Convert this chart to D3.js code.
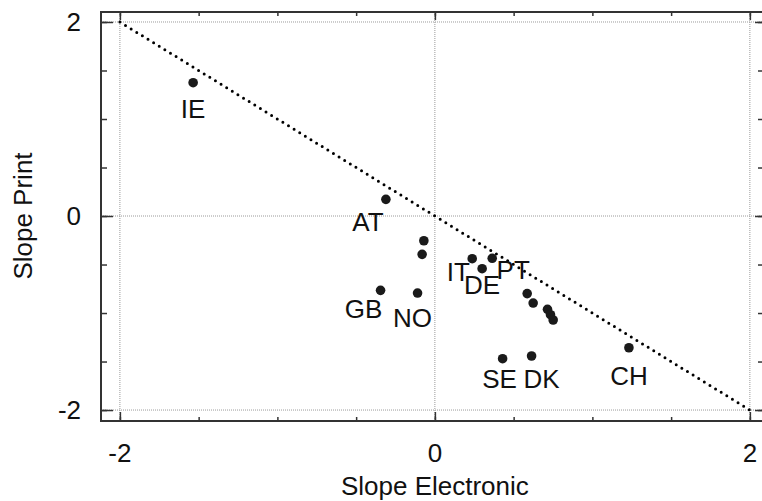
<!DOCTYPE html>
<meta charset="utf-8">
<style>
body {
  margin: 0;
  font-family: "Liberation Sans", Arial, Helvetica, sans-serif;
  background: #fff;
}
.grid line {
  stroke: #9a9a9a;
  stroke-width: 1;
  stroke-dasharray: 1,1;
}
.frame {
  stroke: #333;
  stroke-width: 2;
}
.axis path { display: none; }
.axis line { stroke: #333; stroke-width: 1.5; }
.dot { fill: #1a1a1a; }
.lbl, .tick-lbl { font-size: 26px; fill: #111; }
.title { font-size: 26px; fill: #111; }
</style>
<body>
<script src="https://cdn.jsdelivr.net/npm/d3@7"></script>
<script>

var width = 762,
    height = 501;

// points
var country = ["IE", "AT", "", "", "GB", "NO", "IT", "DE", "PT", "", "", "", "", "", "SE", "DK", "CH"];
var slopeElectronic = [-1.535, -0.311, -0.07, -0.081, -0.345, -0.11, 0.237, 0.30, 0.364, 0.586, 0.624, 0.715, 0.734, 0.751, 0.43, 0.614, 1.232];
var slopePrint = [1.374, 0.172, -0.255, -0.395, -0.766, -0.794, -0.44, -0.543, -0.436, -0.80, -0.897, -0.962, -1.017, -1.072, -1.471, -1.443, -1.358];

// reference line y = -x
var refLine = [[-2, 2], [2, -2]];

var majorTicks = [-2, 0, 2];
var minorTicks = [-2, -1.5, -1, -0.5, 0, 0.5, 1, 1.5, 2];

// label nudges (px) so text sits under its dot like the original
var labelOffset = {
  IE: [0, 35], AT: [-18, 32], GB: [-17, 28], NO: [-5, 34], IT: [-14, 22],
  DE: [0, 25], PT: [21, 21], SE: [-3, 29], DK: [10, 32], CH: [0, 37]
};

var plotL = 101, plotR = 762, plotT = 12, plotB = 421;

var x = d3.scaleLinear().domain([-2.12, 2.077]).range([plotL, plotR]);
var y = d3.scaleLinear().domain([-2.113, 2.103]).range([plotB, plotT]);

var svg = d3.select("body").append("svg")
    .attr("width", width)
    .attr("height", height);

// dotted grid at -2, 0, 2
var grid = svg.append("g").attr("class", "grid");
grid.selectAll(".gx").data(majorTicks).enter().append("line")
    .attr("x1", function(d) { return x(d); })
    .attr("x2", function(d) { return x(d); })
    .attr("y1", plotT).attr("y2", plotB);
grid.selectAll(".gy").data(majorTicks).enter().append("line")
    .attr("x1", plotL).attr("x2", plotR)
    .attr("y1", function(d) { return y(d); })
    .attr("y2", function(d) { return y(d); });

// ticks on all four sides, pointing inward
function ticks(axisFn, scale, vals, size, tr) {
  svg.append("g")
      .attr("class", "axis")
      .attr("transform", tr)
      .call(axisFn(scale).tickValues(vals).tickSize(-size).tickFormat(""));
}
ticks(d3.axisBottom, x, minorTicks, 4, "translate(0," + plotB + ")");
ticks(d3.axisBottom, x, majorTicks, 9, "translate(0," + plotB + ")");
ticks(d3.axisTop, x, minorTicks, 4, "translate(0," + plotT + ")");
ticks(d3.axisTop, x, majorTicks, 8, "translate(0," + plotT + ")");
ticks(d3.axisLeft, y, minorTicks, 6, "translate(" + plotL + ",0)");
ticks(d3.axisLeft, y, majorTicks, 12, "translate(" + plotL + ",0)");
ticks(d3.axisRight, y, minorTicks, 4, "translate(" + plotR + ",0)");
ticks(d3.axisRight, y, majorTicks, 7, "translate(" + plotR + ",0)");

// frame (left, top, bottom)
svg.append("path")
    .attr("class", "frame")
    .attr("fill", "none")
    .attr("d", "M" + plotR + "," + plotT + "H" + plotL + "V" + plotB + "H" + plotR);

// tick labels
svg.selectAll(".xl").data(majorTicks).enter().append("text")
    .attr("class", "tick-lbl")
    .attr("x", function(d) { return x(d); })
    .attr("y", 462)
    .attr("text-anchor", "middle")
    .text(function(d) { return d; });
svg.selectAll(".yl").data(majorTicks).enter().append("text")
    .attr("class", "tick-lbl")
    .attr("x", 81)
    .attr("y", function(d) { return y(d); })
    .attr("dy", "0.36em")
    .attr("text-anchor", "end")
    .text(function(d) { return d; });

// dotted diagonal
svg.append("path")
    .datum(refLine)
    .attr("fill", "none")
    .attr("stroke", "#000")
    .attr("stroke-width", 3)
    .attr("stroke-linecap", "round")
    .attr("stroke-dasharray", "0 6.6")
    .attr("d", d3.line()
      .x(function(d) { return x(d[0]); })
      .y(function(d) { return y(d[1]); }));

// points
var idx = d3.range(country.length);
svg.selectAll(".dot").data(idx).enter().append("circle")
    .attr("class", "dot")
    .attr("cx", function(i) { return x(slopeElectronic[i]); })
    .attr("cy", function(i) { return y(slopePrint[i]); })
    .attr("r", 4.8);

svg.selectAll(".lbl").data(idx.filter(function(i) { return country[i]; })).enter().append("text")
    .attr("class", "lbl")
    .attr("text-anchor", "middle")
    .attr("x", function(i) { return x(slopeElectronic[i]) + labelOffset[country[i]][0]; })
    .attr("y", function(i) { return y(slopePrint[i]) + labelOffset[country[i]][1]; })
    .text(function(i) { return country[i]; });

// axis titles
svg.append("text")
    .attr("class", "title")
    .attr("x", x(0))
    .attr("y", 495)
    .attr("text-anchor", "middle")
    .text("Slope Electronic");
svg.append("text")
    .attr("class", "title")
    .attr("transform", "translate(32," + y(0) + ")rotate(-90)")
    .attr("text-anchor", "middle")
    .text("Slope Print");

</script>
